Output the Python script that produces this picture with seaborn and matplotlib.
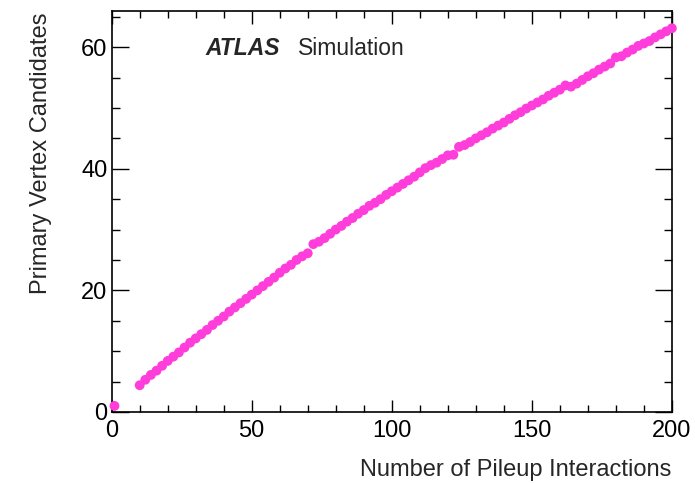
import numpy as np
import pandas as pd
import matplotlib
matplotlib.use("Agg")
import matplotlib.pyplot as plt
from matplotlib.ticker import MultipleLocator
import seaborn as sns

pileup = [1] + list(range(10, 201, 2))
vertices = [1.0,
    4.4, 5.3, 6.1, 6.8, 7.6, 8.4, 9.1, 9.8, 10.6, 11.4,
    12.1, 12.8, 13.5, 14.3, 15.0, 15.7, 16.5, 17.2, 17.9, 18.6,
    19.3, 20.0, 20.7, 21.4, 22.1, 22.9, 23.6, 24.2, 25.0, 25.6,
    26.1, 27.6, 28.0, 28.6, 29.3, 30.0, 30.6, 31.3, 31.9, 32.6,
    33.2, 33.9, 34.4, 35.0, 35.7, 36.3, 36.9, 37.5, 38.1, 38.7,
    39.4, 40.1, 40.6, 41.0, 41.6, 42.2, 42.3, 43.6, 43.9, 44.4,
    45.0, 45.5, 46.0, 46.6, 47.1, 47.6, 48.2, 48.8, 49.3, 49.9,
    50.4, 50.9, 51.4, 52.0, 52.5, 53.0, 53.7, 53.5, 54.0, 54.6,
    55.2, 55.7, 56.3, 56.8, 57.3, 58.3, 58.5, 59.1, 59.6, 60.2,
    60.6, 61.0, 61.6, 62.1, 62.6, 63.1]
x_ticks = [0, 50, 100, 150, 200]
y_ticks = [0, 20, 40, 60]

df = pd.DataFrame({"pileup": pileup, "vertices": vertices})

sns.set_style("ticks")
plt.rcParams["font.family"] = ["Liberation Sans", "DejaVu Sans"]

fig = plt.figure(figsize=(6.95, 4.83), dpi=100)
ax = fig.add_axes([0.1607, 0.147, 0.806, 0.831])

sns.scatterplot(data=df, x="pileup", y="vertices", ax=ax, color="#ff3ddb",
                s=50, edgecolor="none", linewidth=0, legend=False, zorder=3,
                clip_on=False)

ax.set_xlim(0, 200)
ax.set_ylim(0, 66)
ax.set_xticks(x_ticks)
ax.set_yticks(y_ticks)
ax.xaxis.set_minor_locator(MultipleLocator(10))
ax.yaxis.set_minor_locator(MultipleLocator(5))
ax.tick_params(axis="both", which="both", direction="in", top=True, right=True,
               labelsize=17, colors="black", width=1.0)
ax.tick_params(axis="x", which="major", length=9, pad=6)
ax.tick_params(axis="x", which="minor", length=5)
ax.tick_params(axis="y", which="major", length=12, pad=3)
ax.tick_params(axis="y", which="minor", length=6)
for sp in ax.spines.values():
    sp.set_visible(True)
    sp.set_color("black")
    sp.set_linewidth(1.2)

ax.set_xlabel("Number of Pileup Interactions", fontsize=17, ha="right", x=1.0,
              labelpad=12)
ax.set_ylabel("Primary Vertex Candidates", fontsize=17, ha="right", y=0.995,
              labelpad=21)

ax.text(0.167, 0.905, "ATLAS", transform=ax.transAxes, fontsize=16.5,
        fontweight="bold", fontstyle="italic", va="center", ha="left")
ax.text(0.332, 0.905, "Simulation", transform=ax.transAxes, fontsize=16.5,
        va="center", ha="left")

fig.savefig("out.png", dpi=100)
